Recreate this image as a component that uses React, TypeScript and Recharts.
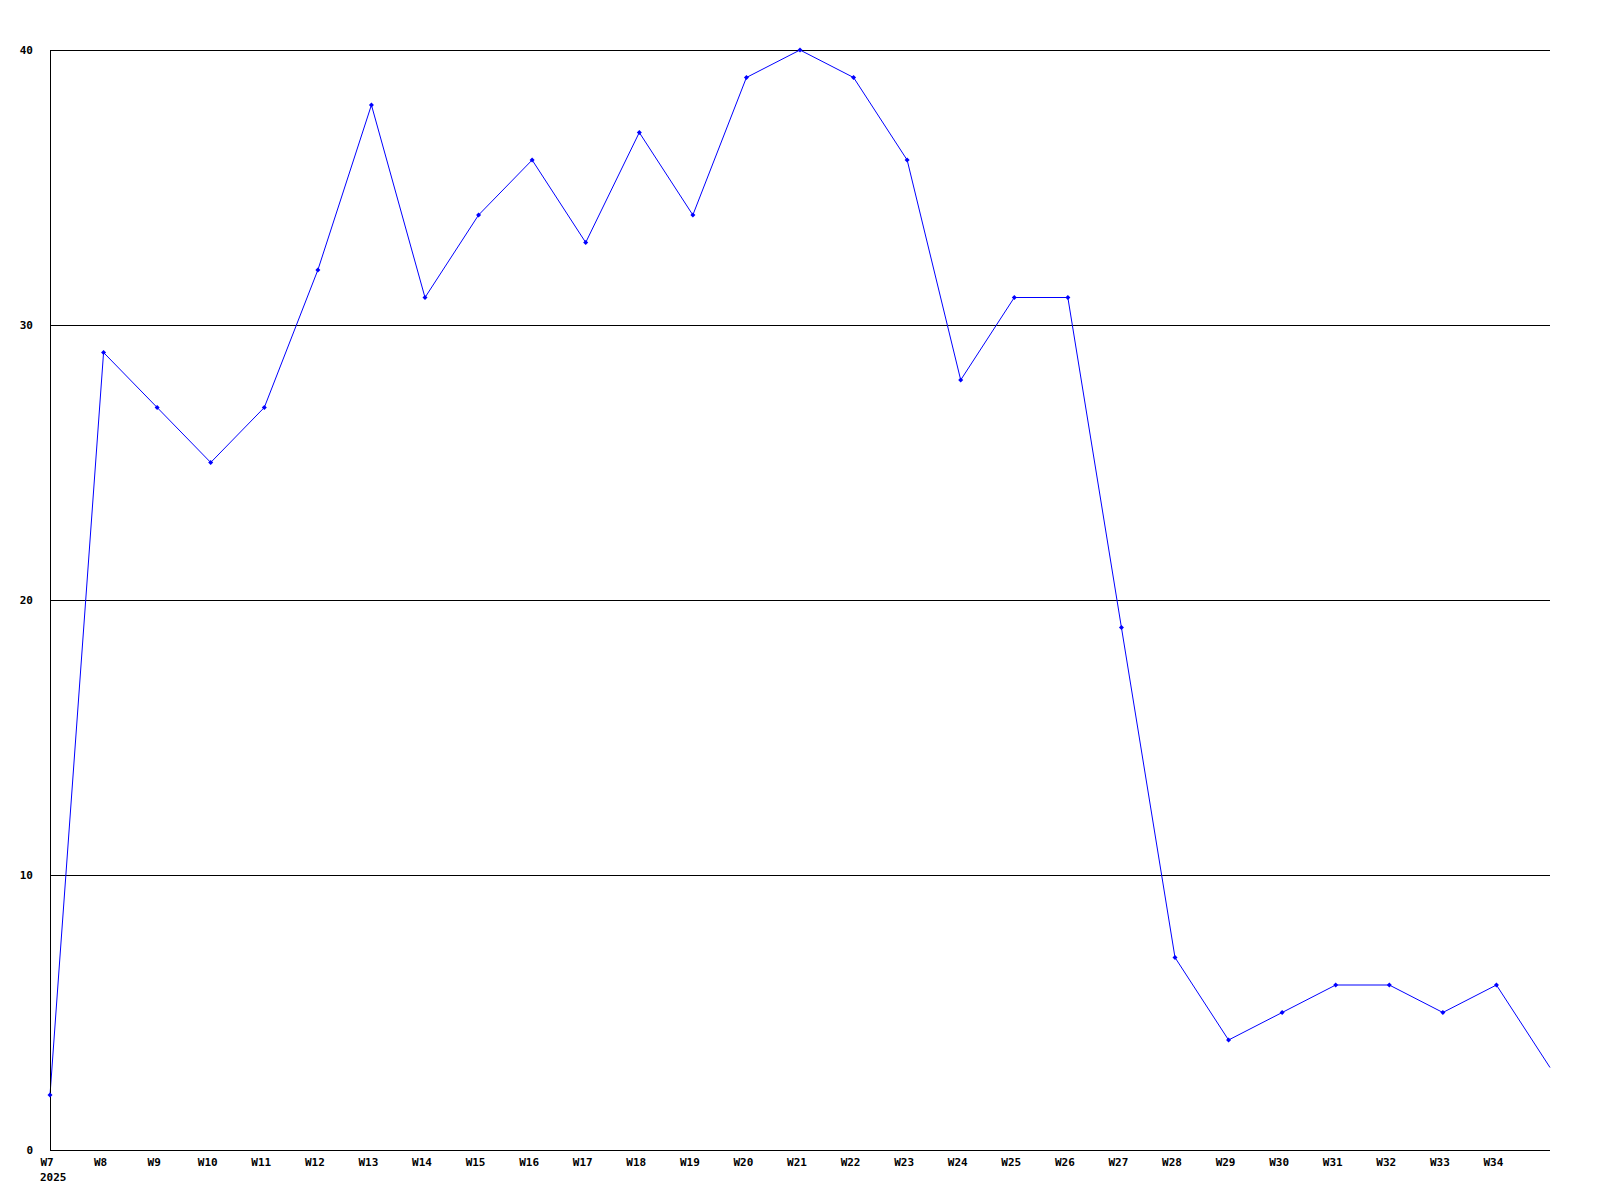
import { LineChart, Line, XAxis, YAxis, CartesianGrid } from 'recharts'

const weeks = [
  'W7', 'W8', 'W9', 'W10', 'W11', 'W12', 'W13', 'W14', 'W15', 'W16',
  'W17', 'W18', 'W19', 'W20', 'W21', 'W22', 'W23', 'W24', 'W25', 'W26',
  'W27', 'W28', 'W29', 'W30', 'W31', 'W32', 'W33', 'W34', 'W35',
]
const counts = [
  2, 29, 27, 25, 27, 32, 38, 31, 34, 36,
  33, 37, 34, 39, 40, 39, 36, 28, 31, 31,
  19, 7, 4, 5, 6, 6, 5, 6, 3,
]
const yTicks = [0, 10, 20, 30, 40]
// last week is partial: no label, no marker
const hiddenLabels = ['W35']
const yearLabel = '2025'

const data = weeks.map((w, i) => ({ week: w, count: counts[i] }))

const font = { fontFamily: '"DejaVu Sans Mono", monospace', fontWeight: 'bold', fontSize: 11, fill: '#000' }

const XTick = (props: any) => {
  const { x, y, payload, index } = props
  if (hiddenLabels.includes(payload.value)) return null
  return (
    <g>
      <text x={x - 3} y={y + 8} textAnchor="middle" style={font}>{payload.value}</text>
      {index === 0 && (
        <text x={x - 10} y={y + 23} textAnchor="start" style={font}>{yearLabel}</text>
      )}
    </g>
  )
}

const YTick = (props: any) => {
  const { x, y, payload } = props
  return (
    <text x={x - 9} y={y + 4} textAnchor="end" style={font}>{payload.value}</text>
  )
}

const Diamond = (props: any) => {
  const { cx, cy, payload } = props
  if (cx == null || cy == null) return null
  if (hiddenLabels.includes(payload?.week)) return null
  const r = 2.5
  return <path d={`M${cx},${cy - r}L${cx + r},${cy}L${cx},${cy + r}L${cx - r},${cy}Z`} fill="#0000ff" />
}

export default function App() {
  return (
    <div style={{ position: 'absolute', left: 0, top: 0, background: '#fff' }}>
      <LineChart width={1600} height={1200} data={data} margin={{ top: 50, right: 50, bottom: 0, left: 0 }}>
        <CartesianGrid vertical={false} stroke="#000" strokeOpacity={1} shapeRendering="crispEdges" />
        <XAxis
          dataKey="week"
          interval={0}
          height={50}
          tickLine={false}
          axisLine={{ stroke: '#000', shapeRendering: 'crispEdges' }}
          tick={<XTick />}
        />
        <YAxis
          domain={[0, 40]}
          ticks={yTicks}
          width={50}
          tickLine={false}
          axisLine={{ stroke: '#000', shapeRendering: 'crispEdges' }}
          tick={<YTick />}
        />
        <Line
          type="linear"
          dataKey="count"
          stroke="#0000ff"
          strokeWidth={1}
          dot={<Diamond />}
          activeDot={false}
          isAnimationActive={false}
        />
      </LineChart>
    </div>
  )
}
